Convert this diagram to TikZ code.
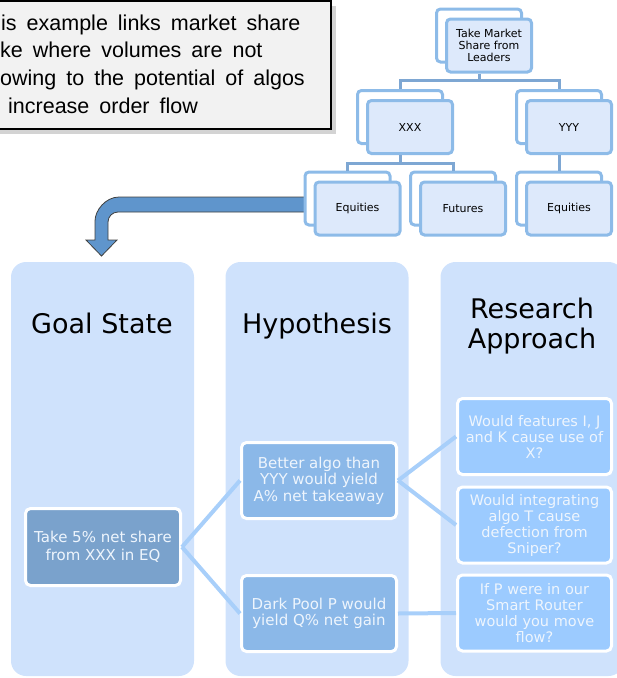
\documentclass[tikz,border=0pt]{standalone}
\usepackage{fontspec}
\setmainfont{DejaVu Sans}
\newfontfamily\calloutfont{Liberation Sans}
\usetikzlibrary{shadows}

\definecolor{colfill}{RGB}{207,226,252}
\definecolor{goalfill}{RGB}{122,162,204}
\definecolor{hypfill}{RGB}{139,184,232}
\definecolor{resfill}{RGB}{156,203,255}
\definecolor{linkblue}{RGB}{168,207,250}
\definecolor{orgedge}{RGB}{141,187,232}
\definecolor{orgfill}{RGB}{221,233,251}
\definecolor{orgline}{RGB}{126,167,211}
\definecolor{arrowfill}{RGB}{95,149,204}
\definecolor{boxtext}{RGB}{238,245,253}
\definecolor{notefill}{RGB}{242,242,242}

\tikzset{
  column/.style={fill=colfill, rounded corners=15pt, minimum width=183pt,
    minimum height=414pt, inner sep=0pt},
  coltitle/.style={font=\fontsize{27}{30}\selectfont, align=center, inner sep=0pt},
  stepbox/.style={draw=white, line width=3pt, rounded corners=5pt, text=boxtext,
    align=center, font=\fontsize{15}{16.5}\selectfont, inner sep=0pt,
    minimum width=155pt, minimum height=76pt},
  goalbox/.style={stepbox, fill=goalfill, minimum height=77pt,
    font=\fontsize{15}{17.5}\selectfont},
  hypbox/.style={stepbox, fill=hypfill},
  resbox/.style={stepbox, fill=resfill, minimum width=154pt,
    font=\fontsize{14.5}{16}\selectfont},
  link/.style={draw=linkblue, line width=4pt},
  orgback/.style={draw=orgedge, fill=white, line width=3pt, rounded corners=4pt,
    minimum width=85pt, minimum height=53pt, inner sep=0pt},
  orgfront/.style={orgback, fill=orgfill, align=center,
    font=\fontsize{11}{12}\selectfont},
  orgconn/.style={draw=orgline, line width=3pt},
  notetext/.style={anchor=base west, inner sep=0pt,
    font=\calloutfont\fontsize{21.5}{27}\selectfont,
    execute at begin node={\spaceskip=10pt\relax}}
}

\begin{document}
\begin{tikzpicture}[x=1pt, y=-1pt]
\useasboundingbox (0,0) rectangle (617,678);
\clip (0,0) rectangle (617,678);

% the three columns
\node[column] (goalcol) at (102.5,469) {};
\node[column] (hypcol) at (317,469) {};
\node[column] (rescol) at (532,469) {};
\node[coltitle, anchor=base] (goaltitle) at (102,333) {Goal State};
\node[coltitle, anchor=base] (hyptitle) at (317,333) {Hypothesis};
\node[coltitle] (restitle) at (532,326) {Research\\Approach};

\node[goalbox] (goal) at (103,547) {Take 5\% net share\\from XXX in EQ};
\node[hypbox] (hypa) at (319,480.5) {Better algo than\\YYY would yield\\A\% net takeaway};
\node[hypbox] (hypb) at (319,613.5) {Dark Pool P would\\yield Q\% net gain};
\node[resbox] (resa) at (534.5,436.5) {Would features I, J\\and K cause use of\\X?};
\node[resbox] (resb) at (534.5,525) {Would integrating\\algo T cause\\defection from\\Sniper?};
\node[resbox] (resc) at (534.5,613) {If P were in our\\Smart Router\\would you move\\flow?};

\draw[link] (goal.east) -- (hypa.west);
\draw[link] (goal.east) -- (hypb.west);
\draw[link] (hypa.east) -- (resa.west);
\draw[link] (hypa.east) -- (resb.west);
\draw[link] (hypb.east) -- (resc.west);

% note box
\node[draw=black, fill=notefill, line width=1.3pt, minimum width=341pt,
  minimum height=128pt, inner sep=0pt,
  drop shadow={shadow xshift=5pt, shadow yshift=-5pt, opacity=0.35}] (note) at (160.5,65) {};
\node[notetext] (notea) at (1,30) {is example links market share};
\node[notetext] (noteb) at (0,57) {ke where volumes are not};
\node[notetext] (notec) at (0,85) {owing to the potential of algos};
\node[notetext] (noted) at (8,113) {increase order flow};

% bent arrow
\draw[fill=arrowfill, draw=black!75, line width=0.8pt]
  (305,197) -- (119,197) .. controls (105.7,197) and (95,210.3) .. (95,221)
  -- (95,240) -- (86,240) -- (101.5,256) -- (117,240) -- (108,240) -- (108,222)
  .. controls (108,216.5) and (112.5,212) .. (118,212) -- (305,212) -- cycle;

% org chart
\node[orgback] (topback) at (479,35.5) {};
\node[orgfront] (topfront) at (489,45.5) {Take Market\\Share from\\Leaders};
\node[orgback] (xxxback) at (400,117) {};
\node[orgfront] (xxxfront) at (410,127) {XXX};
\node[orgback] (yyyback) at (559,117) {};
\node[orgfront] (yyyfront) at (569,127) {YYY};
\node[orgback] (eqxback) at (347.5,198.5) {};
\node[orgfront] (eqxfront) at (357.5,208.5) {Equities};
\node[orgback] (futback) at (453,198.5) {};
\node[orgfront] (futfront) at (463,208.5) {Futures};
\node[orgback] (eqyback) at (559,198.5) {};
\node[orgfront] (eqyfront) at (569,208.5) {Equities};

\coordinate (topjoin) at (479,80);
\coordinate (xxxjoin) at (400,163);
\draw[orgconn] (topback.south |- topfront.south) -- (topjoin);
\draw[orgconn] (topjoin) -| (xxxback.north);
\draw[orgconn] (topjoin) -| (yyyback.north);
\draw[orgconn] (xxxback.south |- xxxfront.south) -- (xxxjoin);
\draw[orgconn] (xxxjoin) -| (eqxback.north);
\draw[orgconn] (xxxjoin) -| (futback.north);
\draw[orgconn] (yyyback.south |- yyyfront.south) -- (eqyback.north);

\end{tikzpicture}
\end{document}
